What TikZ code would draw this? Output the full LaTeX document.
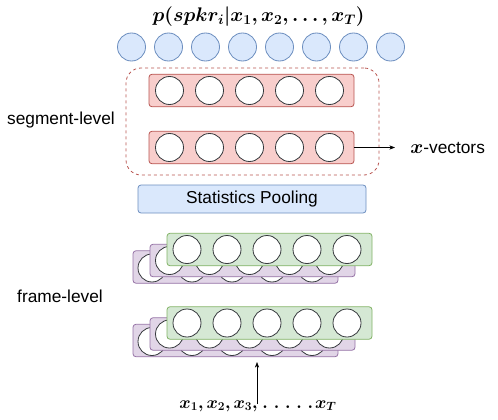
\documentclass[tikz,border=0pt]{standalone}
\usepackage{fix-cm}
\usepackage{amsmath}
\usepackage{bm}
\usepackage{fontspec}
\setmainfont{Liberation Sans}
\usetikzlibrary{arrows.meta}

\definecolor{bluefill}{HTML}{DAE8FC}
\definecolor{bluedraw}{HTML}{6C8EBF}
\definecolor{redfill}{HTML}{F8CECC}
\definecolor{reddraw}{HTML}{B85450}
\definecolor{greenfill}{HTML}{D5E8D4}
\definecolor{greendraw}{HTML}{82B366}
\definecolor{purplefill}{HTML}{E1D5E7}
\definecolor{purpledraw}{HTML}{9673A6}
\definecolor{unitdraw}{HTML}{36393D}

\tikzset{
  unit/.style={circle, draw=unitdraw, fill=white, minimum size=28pt, inner sep=0pt},
  outunit/.style={circle, draw=bluedraw, fill=bluefill, minimum size=28pt, inner sep=0pt},
  bar/.style={rectangle, rounded corners=3pt, minimum width=205pt, minimum height=32.5pt, inner sep=0pt},
  segbar/.style={bar, draw=reddraw, fill=redfill},
  greenbar/.style={bar, draw=greendraw, fill=greenfill},
  purplebar/.style={bar, draw=purpledraw, fill=purplefill},
  lbl/.style={font=\fontsize{17.3}{20}\selectfont},
  mathlbl/.style={font=\fontsize{19.7}{22}\selectfont, inner sep=0pt},
}

\begin{document}
\begin{tikzpicture}[x=1pt, y=-1pt, >=Stealth, line width=0.8pt]
  \useasboundingbox (0,0) rectangle (498,420);

  % output layer
  \node[mathlbl] (post) at (258.5,17) {$\bm{p(spkr_i|x_1,x_2,\ldots,x_T)}$};
  \foreach \i in {0,...,7}
    \node[outunit] (out\i) at (131.5+37*\i,47) {};

  % segment-level
  \node[draw=reddraw, dash pattern=on 3pt off 3pt, rounded corners=15pt, minimum width=253pt, minimum height=107pt] (seg) at (252.5,121.5) {};
  \node[segbar] (seg1) at (251.5,90.5) {};
  \node[segbar] (seg2) at (251.5,147.5) {};
  \foreach \i in {0,...,4} {
    \node[unit] (segA\i) at (169.5+40*\i,90.5) {};
    \node[unit] (segB\i) at (169.5+40*\i,147.5) {};
  }
  \node[lbl] (seglabel) at (61,120) {segment-level};
  \node[lbl, anchor=west, inner sep=0pt] (xvec) at (410,147.5) {{\fontsize{19.7}{22}\selectfont$\bm{x}$}-vectors};
  \draw[->, line width=0.6pt, shorten >=15pt] (seg2.east) -- (xvec.west);

  % pooling
  \node[draw=bluedraw, fill=bluefill, rounded corners=3pt, minimum width=228pt, minimum height=28pt, lbl] (pool) at (252,199) {Statistics Pooling};

  % frame-level, upper stack
  \node[purplebar] (fA3) at (235.5,267) {};
  \foreach \i in {0,...,4}
    \node[unit] (fA3u\i) at (152+40*\i,268) {};
  \node[purplebar] (fA2) at (252.5,260.5) {};
  \foreach \i in {0,...,4}
    \node[unit] (fA2u\i) at (169.5+40*\i,260.5) {};
  \node[greenbar] (fA1) at (269.5,249.5) {};
  \foreach \i in {0,...,4}
    \node[unit] (fA1u\i) at (187+40*\i,249.5) {};

  % frame-level, lower stack
  \node[purplebar] (fB3) at (235.5,340.5) {};
  \foreach \i in {0,...,4}
    \node[unit] (fB3u\i) at (152+40*\i,341.5) {};
  \node[purplebar] (fB2) at (252.5,334) {};
  \foreach \i in {0,...,4}
    \node[unit] (fB2u\i) at (169.5+40*\i,334) {};
  \node[greenbar] (fB1) at (269.5,323) {};
  \foreach \i in {0,...,4}
    \node[unit] (fB1u\i) at (187+40*\i,323) {};

  \node[lbl] (framelabel) at (60,296) {frame-level};

  % input
  \node[mathlbl, font=\fontsize{17.28}{20}\selectfont] (input) at (258,406) {$\bm{x_1,x_2,x_3,}\mkern2mu\bm{.}\mkern6mu\bm{.}\mkern6mu\bm{.}\mkern6mu\bm{.}\mkern6mu\bm{.}\mkern2mu\bm{x_T}$};
  \coordinate (intop) at (257,362);
  \draw[->, line width=0.6pt] ([yshift=-4pt]input.north -| intop) -- (intop);
\end{tikzpicture}
\end{document}
